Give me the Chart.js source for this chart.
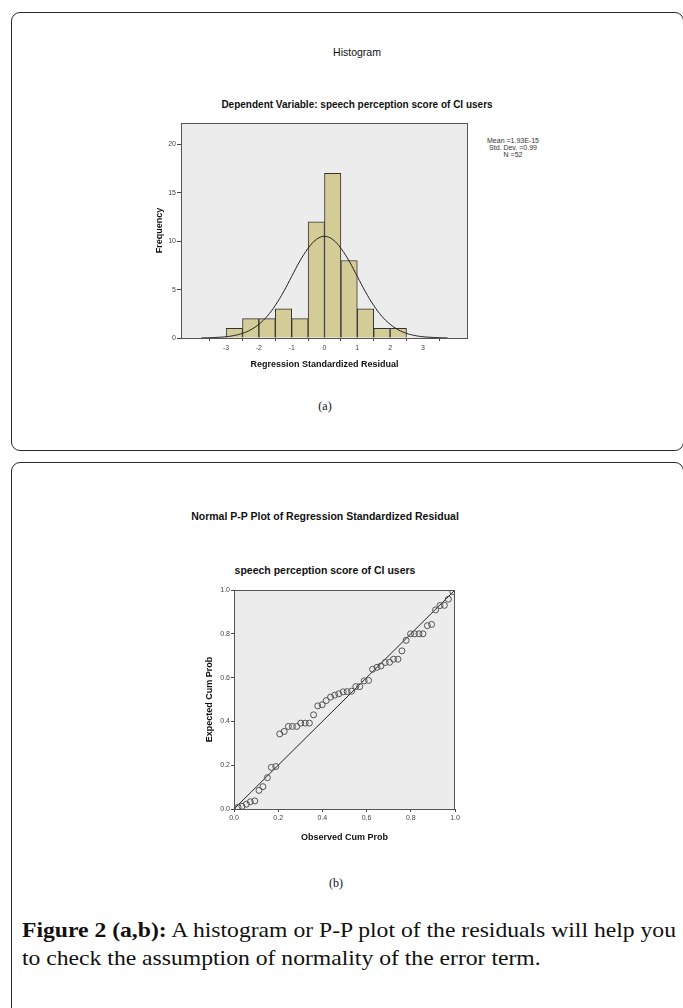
<!DOCTYPE html>
<html>
<head>
<meta charset="utf-8">
<script src="https://cdn.jsdelivr.net/npm/chart.js@4.4.1/dist/chart.umd.min.js"></script>
<style>
  html, body { margin: 0; padding: 0; background: #fff; width: 683px; height: 1008px; overflow: hidden; }
  body { position: relative; font-family: "Liberation Sans", Arial, sans-serif; color: #111; }
  .frame { position: absolute; box-sizing: border-box; border: 1.5px solid #2a2a2a; border-radius: 9px; }
  .t { position: absolute; white-space: nowrap; transform: translate(-50%, -50%); }
  .cv { position: absolute; }
  .legend { position: absolute; font-size: 7px; line-height: 7px; text-align: center; color: #333; transform: translateX(-50%); }
  .cap { position: absolute; left: 22px; font-family: "Liberation Serif", "Times New Roman", serif; font-size: 21px; color: #111; white-space: nowrap; transform-origin: 0 0; }
</style>
</head>
<body>
<div class="frame" style="left:11px; top:12px; width:673px; height:439px;"></div>
<div class="frame" style="left:11px; top:462px; width:673px; height:600px;"></div>

<div class="t" style="left:357px; top:52px; font-size:10.5px;">Histogram</div>
<div class="t" style="left:357px; top:104px; font-size:10px; font-weight:bold;">Dependent Variable: speech perception score of CI users</div>
<div class="legend" style="left:513px; top:137px;">Mean =1.93E-15<br>Std. Dev. =0.99<br>N =52</div>
<div class="cv" style="left:150px; top:115px; width:330px; height:255px;"><canvas id="hist"></canvas></div>
<div class="t" style="left:325px; top:406px; font-family:'Liberation Serif',serif; font-size:12px;">(a)</div>

<div class="t" style="left:325px; top:516px; font-size:10.5px; font-weight:bold;">Normal P-P Plot of Regression Standardized Residual</div>
<div class="t" style="left:325px; top:570px; font-size:10.5px; font-weight:bold;">speech perception score of CI users</div>
<div class="cv" style="left:200px; top:582px; width:270px; height:261px;"><canvas id="pp"></canvas></div>
<div class="t" style="left:336px; top:883px; font-family:'Liberation Serif',serif; font-size:12px;">(b)</div>

<div class="cap" id="cap1" style="top:918px;"><b>Figure 2 (a,b):</b> A histogram or P-P plot of the residuals will help you</div>
<div class="cap" id="cap2" style="top:946px;">to check the assumption of normality of the error term.</div>

<script>
// ---- Histogram data ----
const binStarts = [-3, -2.5, -2, -1.5, -1, -0.5, 0, 0.5, 1, 1.5, 2];
const binWidth = 0.5;
const frequencies = [1, 2, 2, 3, 2, 12, 17, 8, 3, 1, 1];
const histXTicks = [-3, -2, -1, 0, 1, 2, 3];
const histYTicks = [0, 5, 10, 15, 20];
// normal curve, values
const curveX = [-3.75, -3.5, -3.25, -3, -2.75, -2.5, -2.25, -2, -1.75, -1.5, -1.25, -1, -0.75, -0.5, -0.25, 0,
                0.25, 0.5, 0.75, 1, 1.25, 1.5, 1.75, 2, 2.25, 2.5, 2.75, 3, 3.25, 3.5, 3.75];
const curveY = [0.01, 0.03, 0.07, 0.13, 0.26, 0.48, 0.85, 1.42, 2.24, 3.37, 4.76, 6.36, 7.95, 9.26, 10.17, 10.5,
                10.17, 9.26, 7.95, 6.36, 4.76, 3.37, 2.24, 1.42, 0.85, 0.48, 0.26, 0.13, 0.07, 0.03, 0.01];

// ---- P-P plot data ----
const observedCum = [0.018, 0.036, 0.056, 0.074, 0.094, 0.113, 0.131, 0.151, 0.169, 0.189,
  0.207, 0.227, 0.246, 0.264, 0.284, 0.302, 0.322, 0.341, 0.360, 0.379,
  0.399, 0.417, 0.437, 0.456, 0.474, 0.494, 0.512, 0.532, 0.551, 0.569,
  0.589, 0.609, 0.627, 0.647, 0.665, 0.684, 0.704, 0.722, 0.742, 0.760,
  0.779, 0.799, 0.817, 0.837, 0.855, 0.875, 0.894, 0.912, 0.932, 0.952,
  0.970, 0.990];
const expectedCum = [0.008, 0.012, 0.022, 0.033, 0.037, 0.085, 0.102, 0.143, 0.190, 0.194,
  0.343, 0.354, 0.377, 0.377, 0.377, 0.392, 0.392, 0.392, 0.430, 0.471,
  0.476, 0.495, 0.511, 0.520, 0.526, 0.535, 0.536, 0.538, 0.559, 0.559,
  0.585, 0.587, 0.638, 0.647, 0.653, 0.669, 0.670, 0.684, 0.684, 0.722,
  0.770, 0.800, 0.800, 0.800, 0.800, 0.837, 0.843, 0.909, 0.929, 0.930,
  0.958, 0.993];
const refLine = [0, 1];
const ppTicks = [0, 0.2, 0.4, 0.6, 0.8, 1.0];

// stretch caption to the reference's line width
(function () {
  const c1 = document.getElementById('cap1'), c2 = document.getElementById('cap2');
  const k = 654 / c1.getBoundingClientRect().width;
  c1.style.transform = 'scaleX(' + k + ')';
  c2.style.transform = 'scaleX(' + k + ')';
})();

Chart.defaults.font.family = '"Liberation Sans", Arial, sans-serif';
Chart.defaults.color = '#444';
Chart.defaults.animation = false;

const plotFrame = {
  id: 'plotFrame',
  beforeDraw(chart) {
    const a = chart.chartArea, c = chart.ctx;
    c.save(); c.fillStyle = '#ececec'; c.fillRect(a.left, a.top, a.right - a.left, a.bottom - a.top); c.restore();
  },
  afterDraw(chart) {
    const a = chart.chartArea, c = chart.ctx;
    c.save(); c.strokeStyle = '#555'; c.lineWidth = 1;
    c.strokeRect(a.left + 0.5, a.top + 0.5, a.right - a.left - 1, a.bottom - a.top);
    c.restore();
  }
};

const tickFont = { size: 7 };
const titleFont = { size: 9, weight: 'bold' };

new Chart(document.getElementById('hist'), {
  data: {
    datasets: [
      {
        type: 'line',
        data: curveX.map((x, i) => ({ x, y: curveY[i] })),
        borderColor: '#222', borderWidth: 1, pointRadius: 0, tension: 0.4, fill: false, order: 0
      },
      {
        type: 'bar',
        data: binStarts.map((s, i) => ({ x: s + binWidth / 2, y: frequencies[i] })),
        backgroundColor: '#d3cc97', borderColor: '#333', borderWidth: 1,
        barPercentage: 1, categoryPercentage: 1, order: 1
      }
    ]
  },
  options: {
    responsive: true, maintainAspectRatio: false,
    layout: { padding: { top: 8, right: 12, left: 0, bottom: 0 } },
    plugins: { legend: { display: false }, tooltip: { enabled: false } },
    scales: {
      x: {
        type: 'linear', min: -3.75, max: 3.75,
        afterBuildTicks: s => { s.ticks = histXTicks.map(v => ({ value: v })); },
        afterFit: s => { s.height = 32; },
        grid: { drawOnChartArea: false, tickLength: 3, color: '#444' },
        border: { display: false },
        ticks: { font: tickFont, padding: 3, maxRotation: 0 },
        title: { display: true, text: 'Regression Standardized Residual', font: titleFont, color: '#111', padding: 0 }
      },
      y: {
        type: 'linear', min: 0, max: 22.2,
        afterBuildTicks: s => { s.ticks = histYTicks.map(v => ({ value: v })); },
        afterFit: s => { s.width = 31; },
        grid: { drawOnChartArea: false, tickLength: 4, color: '#444' },
        border: { display: false },
        ticks: { font: tickFont, padding: 1 },
        title: { display: true, text: 'Frequency', font: titleFont, color: '#111', padding: { top: 4.6, bottom: 0 } }
      }
    }
  },
  plugins: [plotFrame]
});

new Chart(document.getElementById('pp'), {
  type: 'scatter',
  data: {
    datasets: [
      {
        type: 'line',
        data: refLine.map(v => ({ x: v, y: v })),
        borderColor: '#222', borderWidth: 1, pointRadius: 0, fill: false, order: 1
      },
      {
        data: observedCum.map((x, i) => ({ x, y: expectedCum[i] })),
        pointRadius: 3, pointBorderWidth: 1, pointBorderColor: '#555',
        pointBackgroundColor: 'rgba(0,0,0,0)', order: 0
      }
    ]
  },
  options: {
    responsive: true, maintainAspectRatio: false,
    layout: { padding: { top: 8, right: 15, left: 0, bottom: 0 } },
    plugins: { legend: { display: false }, tooltip: { enabled: false } },
    scales: {
      x: {
        type: 'linear', min: 0, max: 1,
        afterBuildTicks: s => { s.ticks = ppTicks.map(v => ({ value: v })); },
        afterFit: s => { s.height = 34; },
        grid: { drawOnChartArea: false, tickLength: 3, color: '#444' },
        border: { display: false },
        ticks: { font: tickFont, padding: 2, maxRotation: 0, callback: v => Number(v).toFixed(1) },
        title: { display: true, text: 'Observed Cum Prob', font: titleFont, color: '#111', padding: 0 }
      },
      y: {
        type: 'linear', min: 0, max: 1,
        afterBuildTicks: s => { s.ticks = ppTicks.map(v => ({ value: v })); },
        afterFit: s => { s.width = 34; },
        grid: { drawOnChartArea: false, tickLength: 3, color: '#444' },
        border: { display: false },
        ticks: { font: tickFont, padding: 1, callback: v => Number(v).toFixed(1) },
        title: { display: true, text: 'Expected Cum Prob', font: titleFont, color: '#111', padding: { top: 4.6, bottom: 0 } }
      }
    }
  },
  plugins: [plotFrame]
});
</script>
</body>
</html>
